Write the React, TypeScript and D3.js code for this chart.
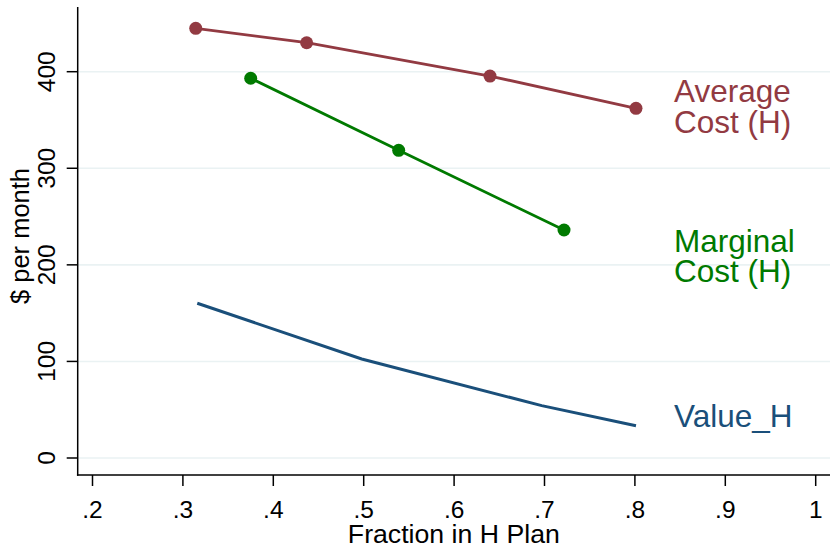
import React from "react";
import * as d3 from "d3";

const xTicks = [0.2, 0.3, 0.4, 0.5, 0.6, 0.7, 0.8, 0.9, 1];
const xTickLabels = [".2", ".3", ".4", ".5", ".6", ".7", ".8", ".9", "1"];
const yTicks = [0, 100, 200, 300, 400];

const avgX = [0.3142, 0.4369, 0.6397, 0.8012];
const avgY = [444.9, 430.0, 395.5, 362.1];
const margX = [0.375, 0.5387, 0.7216];
const margY = [393.2, 318.6, 236.1];
const valX = [0.3159, 0.4978, 0.6969, 0.8012];
const valY = [160.2, 102.5, 54.2, 33.4];

const RED = "#923a42";
const GREEN = "#007a00";
const BLUE = "#1a4f7a";
const FONT = "'Liberation Sans', Arial, Helvetica, sans-serif";

export default function App() {
  const W = 830, H = 547;
  const left = 77.7, right = 830, top = 7, bottom = 475;
  const x = d3.scaleLinear().domain([0.2, 1]).range([92.5, 815.7]);
  const y = d3.scaleLinear().domain([0, 400]).range([458, 71.7]);
  const line = d3.line<[number, number]>().x(d => x(d[0])).y(d => y(d[1]));
  const avg = avgX.map((v, i) => [v, avgY[i]] as [number, number]);
  const marg = margX.map((v, i) => [v, margY[i]] as [number, number]);
  const val = valX.map((v, i) => [v, valY[i]] as [number, number]);

  return (
    <div style={{ position: "absolute", left: 0, top: 0 }}>
      <svg width={W} height={H} style={{ display: "block", background: "#fff" }} fontFamily={FONT}>
        <rect x={0} y={0} width={W} height={H} fill="#fff" />
        {yTicks.map(t => (
          <line key={"g" + t} x1={left} x2={right} y1={y(t)} y2={y(t)} stroke="#eaf2f3" strokeWidth={1.6} />
        ))}
        <path d={line(val) || ""} fill="none" stroke={BLUE} strokeWidth={3} />
        <path d={line(avg) || ""} fill="none" stroke={RED} strokeWidth={2.8} />
        <path d={line(marg) || ""} fill="none" stroke={GREEN} strokeWidth={2.8} />
        {avg.map((d, i) => (
          <circle key={"a" + i} cx={x(d[0])} cy={y(d[1])} r={6.5} fill={RED} />
        ))}
        {marg.map((d, i) => (
          <circle key={"m" + i} cx={x(d[0])} cy={y(d[1])} r={6.5} fill={GREEN} />
        ))}
        {/* axes */}
        <line x1={left} x2={left} y1={top} y2={bottom + 0.75} stroke="#000" strokeWidth={1.5} />
        <line x1={left - 0.75} x2={right} y1={bottom} y2={bottom} stroke="#000" strokeWidth={1.5} />
        {yTicks.map(t => (
          <g key={"yt" + t}>
            <line x1={left - 11} x2={left} y1={y(t)} y2={y(t)} stroke="#000" strokeWidth={1.5} />
            <text transform={`translate(55,${y(t)}) rotate(-90)`} textAnchor="middle" fontSize={24.5} fill="#000">{t}</text>
          </g>
        ))}
        {xTicks.map((t, i) => (
          <g key={"xt" + t}>
            <line x1={x(t)} x2={x(t)} y1={bottom} y2={bottom + 11} stroke="#000" strokeWidth={1.5} />
            <text x={x(t)} y={518} textAnchor="middle" fontSize={24.5} fill="#000">{xTickLabels[i]}</text>
          </g>
        ))}
        <text x={(left + right) / 2} y={543} textAnchor="middle" fontSize={25.5} fill="#000" textLength={212} lengthAdjust="spacingAndGlyphs">Fraction in H Plan</text>
        <text transform={`translate(29,236) rotate(-90)`} textAnchor="middle" fontSize={25.5} fill="#000">$ per month</text>
        {/* labels */}
        <text x={674} y={101.7} fontSize={31.5} fill={RED}>Average</text>
        <text x={674} y={132.7} fontSize={31.5} fill={RED}>Cost (H)</text>
        <text x={674} y={251.7} fontSize={31.5} fill={GREEN}>Marginal</text>
        <text x={674} y={281.7} fontSize={31.5} fill={GREEN}>Cost (H)</text>
        <text x={674} y={426.7} fontSize={31.5} fill={BLUE}>Value_H</text>
      </svg>
    </div>
  );
}
